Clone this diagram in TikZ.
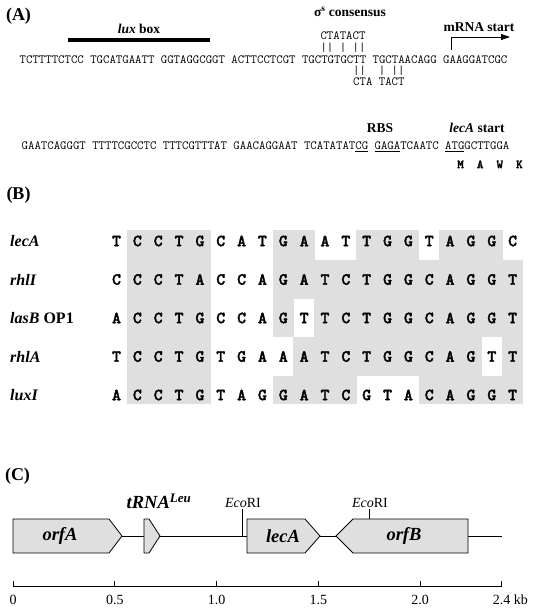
\documentclass[tikz,border=0pt]{standalone}
\usepackage{fontspec}
\setmainfont{Liberation Serif}
\newfontfamily\heavymono{lmmonolt10-bold.otf}[FakeBold=2]
\usetikzlibrary{positioning,arrows.meta}

\begin{document}
\begin{tikzpicture}
[
x=1pt, y=-1pt,
panel/.style={font=\fontsize{18}{18}\selectfont\bfseries, inner sep=0pt},
seq_text/.style={font=\ttfamily\fontsize{12.46}{13}\selectfont, inner sep=0pt, anchor=base west},
note/.style={font=\fontsize{13.5}{14}\selectfont\bfseries, inner sep=0pt},
base_letter/.style={font=\heavymono\fontsize{17}{18}\selectfont, inner sep=0pt},
row_name/.style={font=\fontsize{16}{16}\selectfont\bfseries, inner sep=0pt, anchor=west},
cell_fill/.style={fill=gray!25},
gene/.style={draw=black, fill=gray!25, line width=0.8pt},
gene_name/.style={font=\fontsize{18.5}{19}\selectfont\bfseries\itshape, inner sep=0pt},
site/.style={font=\fontsize{14}{14}\selectfont, inner sep=1pt},
tick_label/.style={font=\fontsize{14}{14}\selectfont, inner sep=0pt},
thin_line/.style={line width=0.8pt}
]
\useasboundingbox (0,0) rectangle (537,614);

%Panel A
\node[panel]    (labelA)    at (18.5,16)    {(A)};
\node[note]     (luxbox)    at (139,29)     {\textit{lux} box};
\coordinate (lux_l) at (68,40);
\coordinate (lux_r) at (210,40);
\draw[line width=3.3pt] (lux_l) -- (lux_r);

\node[note]     (sigma)     at (350,12)     {σ\textsuperscript{s} consensus};
\node[seq_text] (cons_up)   at ({19.5+46*6.54},39.2) {CTATACT};
\node[seq_text] (bars_up)   at ({19.5+46*6.54},51.2) {|| | ||};
\node[seq_text] (seq1)      at (19.5,63.2)  {TCTTTTCTCC TGCATGAATT GGTAGGCGGT ACTTCCTCGT TGCTGTGCTT TGCTAACAGG GAAGGATCGC};
\node[seq_text] (bars_dn)   at ({19.5+51*6.54},74.2) {||~~| ||};
\node[seq_text] (cons_dn)   at ({19.5+51*6.54},85.2) {CTA TACT};

\node[note]     (mrna)      at (479,27)     {mRNA start};
\coordinate (mrna_foot) at (451,50);
\coordinate (mrna_tip)  at (510,37);
\draw[thin_line, -{Triangle[length=9pt,width=6pt]}] (mrna_foot) |- (mrna_tip);

\node[note]     (rbs)       at (380,128)    {RBS};
\node[note]     (lecstart)  at (477,128)    {\textit{lecA} start};
\node[seq_text] (seq2)      at (21.5,149.2) {GAATCAGGGT TTTTCGCCTC TTTCGTTTAT GAACAGGAAT TCATATAT\underline{CG} \underline{GAGA}TCAATC \underline{ATG}GCTTGGA};
\node[seq_text, font=\heavymono\fontsize{12.46}{13}\selectfont] (protein) at ({21.5+66.6*6.54},168.2) {M~~A~~W~~K};

%Panel B
\node[panel]    (labelB)    at (18.5,195)   {(B)};
\foreach \r/\nm/\bases/\cells in {
  0/{\textit{lecA}}/{T,C,C,T,G,C,A,T,G,A,A,T,T,G,G,T,A,G,G,C}/{1,2,3,4,8,9,12,13,14,16,17,18},
  1/{\textit{rhlI}}/{C,C,C,T,A,C,C,A,G,A,T,C,T,G,G,C,A,G,G,T}/{1,2,3,4,8,9,10,11,12,13,14,15,16,17,18,19},
  2/{\textit{lasB} OP1}/{A,C,C,T,G,C,C,A,G,T,T,C,T,G,G,C,A,G,G,T}/{1,2,3,4,8,10,11,12,13,14,15,16,17,18,19},
  3/{\textit{rhlA}}/{T,C,C,T,G,T,G,A,A,A,T,C,T,G,G,C,A,G,T,T}/{1,2,3,4,9,10,11,12,13,14,15,16,17,19},
  4/{\textit{luxI}}/{A,C,C,T,G,T,A,G,G,A,T,C,G,T,A,C,A,G,G,T}/{1,2,3,4,8,9,10,11,15,16,17,18,19}}{
  \pgfmathsetmacro{\rowy}{241+38.5*\r}
  \pgfmathsetmacro{\celltop}{\r==0 ? 230 : \rowy-19.25}
  \pgfmathsetmacro{\cellbot}{\r==4 ? 404 : \rowy+19.25}
  \foreach \c in \cells
    \fill[cell_fill] ({116.5+20.85*\c-10.7},\celltop) rectangle ({116.5+20.85*\c+10.7},\cellbot);
  \node[row_name] (name\r) at (10,\rowy) {\nm};
  \foreach \b [count=\i from 0] in \bases
    \node[base_letter] (b\r-\i) at ({116.5+20.85*\i},\rowy) {\b};
}

%Panel C
\node[panel]    (labelC)    at (17.5,476)   {(C)};
\coordinate (track_l) at (13,536);
\coordinate (track_r) at (502,536);
\draw[thin_line] (track_l) -- (track_r);

\draw[gene] (13,519) -- (109,519) -- (122,536) -- (109,553) -- (13,553) -- cycle;
\draw[gene] (144,519) -- (149,519) -- (160,536) -- (149,553) -- (144,553) -- cycle;
\draw[gene] (247,519) -- (305,519) -- (320,536) -- (305,553) -- (247,553) -- cycle;
\draw[gene] (336,536) -- (353,519) -- (468,519) -- (468,553) -- (353,553) -- cycle;
\node[gene_name] (orfA) at (60,536)  {orfA};
\node[gene_name] (lecA) at (283,536) {lecA};
\node[gene_name] (orfB) at (404,536) {orfB};
\node[gene_name] (trna) at (159,501) {tRNA\textsuperscript{Leu}};

\coordinate (eco1_cut) at (242,536);
\coordinate (eco2_cut) at (369,519);
\node[site] (eco1) at (243,503) {\textit{Eco}RI};
\node[site] (eco2) at (370,503) {\textit{Eco}RI};
\draw[thin_line] (eco1.south -| eco1_cut) -- (eco1_cut);
\draw[thin_line] (eco2.south -| eco2_cut) -- (eco2_cut);

%Scale
\coordinate (kb0)  at (13,586);
\coordinate (kb24) at ({13+203.6*2.4},586);
\draw[thin_line] (kb0) -- (kb24);
\foreach \k [count=\n] in {0,0.5,1.0,1.5,2.0} {
  \draw[thin_line] ({13+203.6*\k},586) -- ++(0,-5);
  \node[tick_label] (tick\n) at ({13+203.6*\k},600) {\k};
}
\draw[thin_line] (kb24) -- ++(0,-5);
\node[tick_label] (tick6) at ({13+203.6*2.4},600) {2.4\rlap{\ kb}};

\end{tikzpicture}
\end{document}
